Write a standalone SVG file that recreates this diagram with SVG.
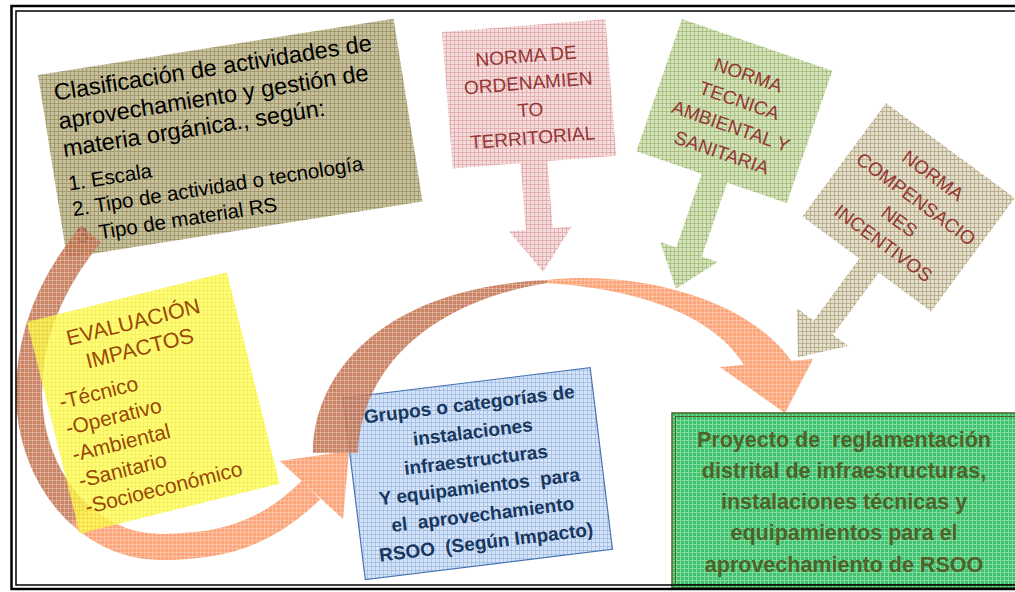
<svg xmlns="http://www.w3.org/2000/svg" width="1015" height="592" viewBox="0 0 1015 592">
<defs>
<pattern id="pKhaki" width="4" height="4" patternUnits="userSpaceOnUse" patternTransform="rotate(9)"><rect width="4" height="4" fill="#c9c29f"/><path d="M0 .5H4M.5 0V4" stroke="#a39a70"/></pattern>
<pattern id="pKhaki2" width="4" height="4" patternUnits="userSpaceOnUse" patternTransform="rotate(-36.4)"><rect width="4" height="4" fill="#e6e1cf"/><path d="M0 .5H4M.5 0V4" stroke="#b9af8e"/></pattern>
<pattern id="pPink" width="4" height="4" patternUnits="userSpaceOnUse" patternTransform="rotate(4.5)"><rect width="4" height="4" fill="#f6dede"/><path d="M0 .5H4M.5 0V4" stroke="#e2b0b0"/></pattern>
<pattern id="pOlive" width="4" height="4" patternUnits="userSpaceOnUse" patternTransform="rotate(-19)"><rect width="4" height="4" fill="#d6e3bd"/><path d="M0 .5H4M.5 0V4" stroke="#a9c283"/></pattern>
<pattern id="pYellow" width="4" height="4" patternUnits="userSpaceOnUse" patternTransform="rotate(14)"><rect width="4" height="4" fill="#ffff55"/><path d="M0 .5H4M.5 0V4" stroke="#f4ec3a"/></pattern>
<pattern id="pBlue" width="4" height="4" patternUnits="userSpaceOnUse" patternTransform="rotate(7)"><rect width="4" height="4" fill="#d6e4f6"/><path d="M0 .5H4M.5 0V4" stroke="#a7c2e8"/></pattern>
<pattern id="pGreen" width="4" height="4" patternUnits="userSpaceOnUse"><rect width="4" height="4" fill="#3fc26d"/><path d="M0 .5H4M.5 0V4" stroke="#84d9a1"/></pattern>
<pattern id="gridW" width="4" height="4" patternUnits="userSpaceOnUse"><path d="M0 .5H4M.5 0V4" stroke="#fff" stroke-opacity=".28"/></pattern>
<linearGradient id="gA" gradientUnits="userSpaceOnUse" x1="40" y1="480" x2="110" y2="545"><stop offset="0.5" stop-color="#c2704c"/><stop offset="0.62" stop-color="#fb9765"/></linearGradient>
</defs>
<style>
text{font-family:"Liberation Sans",Arial,sans-serif}
.big{font-size:23.5px;fill:#000}
.sm{font-size:20.5px;fill:#000}
.norma{font-size:19px;fill:#953735;text-anchor:middle}
.eval{font-size:21.5px;fill:#984807;text-anchor:middle}
.evl{font-size:21px;fill:#984807}
.grp{font-size:19px;font-weight:bold;fill:#17375e;text-anchor:middle}
.proj{font-size:21.5px;font-weight:bold;fill:#4f6228;text-anchor:middle}
.brown{fill:#c2704c}
.orange{fill:#fb9765}
</style>
<rect width="1015" height="592" fill="#fff"/>

<g id="clasificacion" transform="translate(38,75) rotate(-9)">
<rect width="360" height="185" fill="url(#pKhaki)"/>
<text class="big" x="13" y="28">Clasificación de actividades de</text>
<text class="big" x="13" y="57">aprovechamiento y gestión de</text>
<text class="big" x="13" y="85">materia orgánica., según:</text>
<text class="sm" x="13" y="119">1. Escala</text>
<text class="sm" x="13" y="145">2. Tipo de actividad o tecnología</text>
<text class="sm" x="13" y="172">3. Tipo de material RS</text>
</g>

<g id="grupos" transform="translate(343,398) rotate(-7)">
<rect width="249" height="183" fill="url(#pBlue)" stroke="#4a74b0" stroke-width="1.2"/>
<text class="grp" x="124.5" y="28">Grupos o categorías de</text>
<text class="grp" x="124.5" y="56">instalaciones</text>
<text class="grp" x="124.5" y="84">infraestructuras</text>
<text class="grp" x="124.5" y="111" xml:space="preserve">Y equipamientos  para</text>
<text class="grp" x="124.5" y="139" xml:space="preserve">el  aprovechamiento</text>
<text class="grp" x="124.5" y="167" xml:space="preserve">RSOO  (Según Impacto)</text>
</g>

<g id="connectors" opacity="0.86">
<g id="arc-left">
<path d="M91,234 C53,280 29,333 29,393 C29,478 88,547 160,547 C220,547 266,535 311,490" fill="none" stroke="url(#gA)" stroke-width="26"/>
<path d="M91,234 C53,280 29,333 29,393 C29,478 88,547 160,547 C220,547 266,535 311,490" fill="none" stroke="url(#gridW)" stroke-width="26"/>
<path class="orange" d="M280,461 L349,451 L343,519 Z"/>
<path d="M280,461 L349,451 L343,519 Z" fill="url(#gridW)"/>
</g>
<g id="arc-top">
<path class="brown" d="M313,453 C313,375 380,288 547,280 L547,283 C440,300 362,360 358,453 Z"/>
<path class="orange" d="M547,280 C640,270 750,300 792,362 L747,370 C720,320 650,290 547,283 Z"/>
<path class="orange" d="M720,367 L813,359 L785,413 Z"/>
<path d="M313,453 C313,375 380,288 547,280 L547,283 C440,300 362,360 358,453 Z M547,280 C640,270 750,300 792,362 L747,370 C720,320 650,290 547,283 Z M720,367 L813,359 L785,413 Z" fill="url(#gridW)"/>
</g>
</g>

<g id="evaluacion" transform="translate(27,322) rotate(-14)">
<rect width="206" height="218" fill="url(#pYellow)" fill-opacity="0.8"/>
<text class="eval" x="103" y="33">EVALUACIÓN</text>
<text class="eval" x="103" y="60">IMPACTOS</text>
<text class="evl" x="12" y="93">-Técnico</text>
<text class="evl" x="12" y="120">-Operativo</text>
<text class="evl" x="12" y="147">-Ambiental</text>
<text class="evl" x="12" y="174">-Sanitario</text>
<text class="evl" x="12" y="201">-Socioeconómico</text>
</g>

<g id="norma-ordenamiento" transform="translate(442,32) rotate(-4.5)">
<path d="M0,0 H164 V137 H95 V204 H114 L82,247 L51,204 H68 V137 H0 Z" fill="url(#pPink)"/>
<text class="norma" x="82" y="37">NORMA DE</text>
<text class="norma" x="82" y="64">ORDENAMIEN</text>
<text class="norma" x="82" y="91">TO</text>
<text class="norma" x="82" y="119">TERRITORIAL</text>
</g>

<g id="norma-tecnica" transform="translate(682,19) rotate(19)">
<path d="M0,0 H159 V140 H96 V218 H113 L82,257 L52,218 H69 V140 H0 Z" fill="url(#pOlive)"/>
<text class="norma" x="81" y="38">NORMA</text>
<text class="norma" x="81" y="65">TECNICA</text>
<text class="norma" x="81" y="92">AMBIENTAL Y</text>
<text class="norma" x="81" y="120">SANITARIA</text>
</g>

<g id="norma-compensaciones" transform="translate(886,103) rotate(36.4)">
<path d="M0,0 H160 V141 H95 V218 H114 L80,257 L50,218 H71 V141 H0 Z" fill="url(#pKhaki2)"/>
<text class="norma" x="81" y="37">NORMA</text>
<text class="norma" x="81" y="66">COMPENSACIO</text>
<text class="norma" x="81" y="94">NES</text>
<text class="norma" x="81" y="121">INCENTIVOS</text>
</g>

<g id="proyecto">
<rect x="672" y="413" width="360" height="175" fill="url(#pGreen)" stroke="#4f6228" stroke-width="1.5"/>
<rect x="675.5" y="416.5" width="360" height="168" fill="none" stroke="#4f6228" stroke-width="1"/>
<text class="proj" x="844" y="447" xml:space="preserve">Proyecto de  reglamentación</text>
<text class="proj" x="844" y="478">distrital de infraestructuras,</text>
<text class="proj" x="844" y="509">instalaciones técnicas y</text>
<text class="proj" x="844" y="540">equipamientos para el</text>
<text class="proj" x="844" y="572">aprovechamiento de RSOO</text>
</g>

<g id="frame" fill="none" stroke="#000">
<rect x="11.5" y="6" width="1012" height="583" stroke-width="2.5"/>
<rect x="16" y="11" width="1005" height="574" stroke-width="1.5"/>
</g>
</svg>
